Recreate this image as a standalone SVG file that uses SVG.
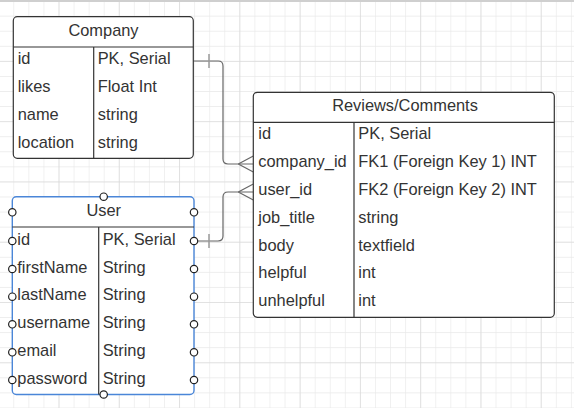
<svg xmlns="http://www.w3.org/2000/svg" width="574" height="408" viewBox="0 0 574 408">
<defs>
<pattern id="minor" x="13.3" y="0.6" width="15.07" height="15.07" patternUnits="userSpaceOnUse">
<path d="M0 0V15.07M0 0H15.07" fill="none" stroke="#e8e8e8" stroke-width="1.2"/>
</pattern>
<pattern id="major" x="58.5" y="0.6" width="60.28" height="60.28" patternUnits="userSpaceOnUse">
<path d="M0 0V60.28M0 0H60.28" fill="none" stroke="#d6d6d6" stroke-width="1.2"/>
</pattern>
</defs>
<style>
text{font-family:"Liberation Sans",Arial,sans-serif;font-size:16.4px;fill:#333}
.hd{text-anchor:middle}
.box{fill:#fff;stroke:#333;stroke-width:1.2}
.sel{fill:#fff;stroke:#4a86d8;stroke-width:1.4}
.ln{stroke:#333;stroke-width:1.2;fill:none}
.con{stroke:#666;stroke-width:1.2;fill:none}
.tick{stroke:#999;stroke-width:1.5}
.pt{fill:#fff;stroke:#222;stroke-width:1.2}
</style>
<rect width="574" height="408" fill="#fff"/>
<rect width="574" height="408" fill="url(#minor)"/>
<rect width="574" height="408" fill="url(#major)"/>
<rect x="0" y="0" width="574" height="2" fill="#cfcfcf"/>

<g id="connectors">
<path class="con" d="M193.3 61H218.3Q223 61 223 66V159Q223 164 228 164H253.3"/>
<line class="tick" x1="209" y1="54" x2="209" y2="68"/>
<path class="con" d="M238.3 164L253.3 156M238.3 164L253.3 172"/>
<path class="con" d="M194 241H218Q223 241 223 236V197Q223 192 228 192H253.3"/>
<line class="tick" x1="209" y1="234" x2="209" y2="248"/>
<path class="con" d="M238.3 192L253.3 184M238.3 192L253.3 200"/>
</g>

<g id="company">
<rect class="box" x="13.3" y="16.7" width="180" height="141.6" rx="4"/>
<line class="ln" x1="13.3" y1="47" x2="193.3" y2="47"/>
<line class="ln" x1="93.7" y1="47" x2="93.7" y2="158.3"/>
<text class="hd" x="103.5" y="35.7">Company</text>
<text x="17.7" y="64.3">id</text><text x="97.7" y="64.3">PK, Serial</text>
<text x="17.7" y="92">likes</text><text x="97.7" y="92">Float Int</text>
<text x="17.7" y="120">name</text><text x="97.7" y="120">string</text>
<text x="17.7" y="148">location</text><text x="97.7" y="148">string</text>
</g>

<g id="reviews">
<rect class="box" x="253.3" y="92.3" width="301" height="225" rx="4"/>
<line class="ln" x1="253.3" y1="122.3" x2="554.3" y2="122.3"/>
<line class="ln" x1="354" y1="122.3" x2="354" y2="317.3"/>
<text class="hd" x="405" y="110.7">Reviews/Comments</text>
<text x="258.3" y="139.3">id</text><text x="358.3" y="139.3">PK, Serial</text>
<text x="258.3" y="167.3">company_id</text><text x="358.3" y="167.3">FK1 (Foreign Key 1) INT</text>
<text x="258.3" y="195">user_id</text><text x="358.3" y="195">FK2 (Foreign Key 2) INT</text>
<text x="258.3" y="222.7">job_title</text><text x="358.3" y="222.7">string</text>
<text x="258.3" y="250.7">body</text><text x="358.3" y="250.7">textfield</text>
<text x="258.3" y="278.3">helpful</text><text x="358.3" y="278.3">int</text>
<text x="258.3" y="306">unhelpful</text><text x="358.3" y="306">int</text>
</g>

<g id="user">
<rect class="sel" x="12.3" y="196.7" width="181.7" height="197.8" rx="4"/>
<line class="ln" x1="12.3" y1="227" x2="194" y2="227"/>
<line class="ln" x1="98.7" y1="227" x2="98.7" y2="394.5"/>
<text class="hd" x="103.7" y="216">User</text>
<text x="17.3" y="245.3">id</text><text x="102.7" y="245.3">PK, Serial</text>
<text x="17.3" y="272.7">firstName</text><text x="102.7" y="272.7">String</text>
<text x="17.3" y="300.3">lastName</text><text x="102.7" y="300.3">String</text>
<text x="17.3" y="328.3">username</text><text x="102.7" y="328.3">String</text>
<text x="17.3" y="356">email</text><text x="102.7" y="356">String</text>
<text x="17.3" y="384">password</text><text x="102.7" y="384">String</text>
<circle class="pt" cx="103.7" cy="196.7" r="3.7"/>
<circle class="pt" cx="103.7" cy="394.5" r="3.7"/>
<circle class="pt" cx="12.3" cy="212.3" r="3.7"/><circle class="pt" cx="194" cy="212.3" r="3.7"/>
<circle class="pt" cx="12.3" cy="241" r="3.7"/><circle class="pt" cx="194" cy="241" r="3.7"/>
<circle class="pt" cx="12.3" cy="269" r="3.7"/><circle class="pt" cx="194" cy="269" r="3.7"/>
<circle class="pt" cx="12.3" cy="296.7" r="3.7"/><circle class="pt" cx="194" cy="296.7" r="3.7"/>
<circle class="pt" cx="12.3" cy="324.3" r="3.7"/><circle class="pt" cx="194" cy="324.3" r="3.7"/>
<circle class="pt" cx="12.3" cy="352.3" r="3.7"/><circle class="pt" cx="194" cy="352.3" r="3.7"/>
<circle class="pt" cx="12.3" cy="380" r="3.7"/><circle class="pt" cx="194" cy="380" r="3.7"/>
</g>
</svg>
